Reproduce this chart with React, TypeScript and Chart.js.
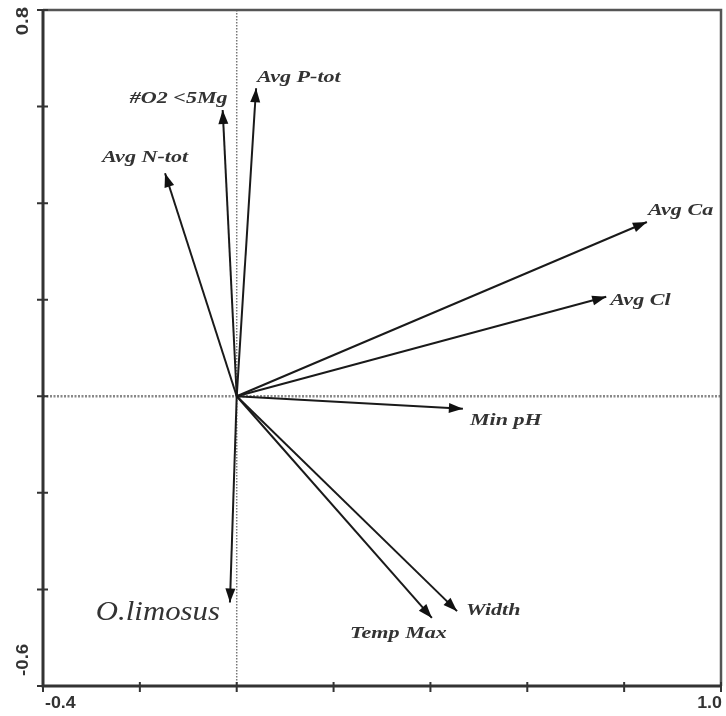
import React, { useEffect, useRef } from "react";
import { Chart, registerables } from "chart.js";

Chart.register(...registerables);

// ---- data ----
const variables = ["Avg P-tot", "#O2 <5Mg", "Avg N-tot", "Avg Ca", "Avg Cl", "Min pH", "Width", "Temp Max", "O.limosus"];
const axis1 = [0.04, -0.029, -0.148, 0.847, 0.763, 0.467, 0.455, 0.403, -0.014];
const axis2 = [0.638, 0.593, 0.462, 0.361, 0.206, -0.026, -0.445, -0.459, -0.427];
const xTicks = [-0.4, -0.2, 0, 0.2, 0.4, 0.6, 0.8, 1.0];
const yTicks = [-0.6, -0.4, -0.2, 0, 0.2, 0.4, 0.6, 0.8];
const xTickLabels = ["-0.4", "1.0"];
const yTickLabels = ["-0.6", "0.8"];

// ---- label layout (pixel offsets from arrow tips) ----
const labelLayout = [
  { dx: 1, dy: -6, align: "left" },
  { dx: 5, dy: -7, align: "right" },
  { dx: -20, dy: -11, align: "center" },
  { dx: 1, dy: -7, align: "left" },
  { dx: 4, dy: 8, align: "left" },
  { dx: 7, dy: 16, align: "left" },
  { dx: 9, dy: 4, align: "left" },
  { dx: 15, dy: 20, align: "right" },
  { dx: -10, dy: 18, align: "right" },
];
const speciesIndex = 8;
const labelStretch = 1.3;
const speciesStretch = 1.1;

function stretchedText(ctx: any, text: string, x: number, y: number, sx: number, sy: number) {
  ctx.save();
  ctx.translate(x, y);
  ctx.scale(sx, sy);
  ctx.fillText(text, 0, 0);
  ctx.restore();
}

const biplotPlugin = {
  id: "biplot",
  beforeDatasetsDraw(chart: any) {
    const { ctx, chartArea, scales } = chart;
    const x0 = scales.x.getPixelForValue(0);
    const y0 = scales.y.getPixelForValue(0);
    ctx.save();
    ctx.strokeStyle = "#777";
    ctx.lineWidth = 1.5;
    ctx.setLineDash([1.5, 1.5]);
    ctx.beginPath();
    ctx.moveTo(x0, chartArea.top);
    ctx.lineTo(x0, chartArea.bottom);
    ctx.stroke();
    ctx.strokeStyle = "#888";
    ctx.lineWidth = 2.5;
    ctx.setLineDash([2, 1.5]);
    ctx.beginPath();
    ctx.moveTo(chartArea.left, y0);
    ctx.lineTo(chartArea.right, y0);
    ctx.stroke();
    ctx.restore();
  },
  afterDatasetsDraw(chart: any) {
    const { ctx, scales } = chart;
    const ox = scales.x.getPixelForValue(0);
    const oy = scales.y.getPixelForValue(0);
    ctx.save();
    for (let i = 0; i < variables.length; i++) {
      const tx = scales.x.getPixelForValue(axis1[i]);
      const ty = scales.y.getPixelForValue(axis2[i]);
      const a = Math.atan2(ty - oy, tx - ox);
      const L = 14;
      const W = 5;
      const bx = tx - L * Math.cos(a);
      const by = ty - L * Math.sin(a);
      ctx.fillStyle = "#111";
      ctx.beginPath();
      ctx.moveTo(tx, ty);
      ctx.lineTo(bx - W * Math.sin(a), by + W * Math.cos(a));
      ctx.lineTo(bx + W * Math.sin(a), by - W * Math.cos(a));
      ctx.closePath();
      ctx.fill();

      const lay = labelLayout[i];
      const isSpecies = i === speciesIndex;
      ctx.font = isSpecies
        ? "italic 28px 'Liberation Serif', serif"
        : "italic bold 17px 'Liberation Serif', serif";
      ctx.fillStyle = isSpecies ? "#333" : "#333";
      ctx.textAlign = lay.align;
      ctx.textBaseline = "alphabetic";
      stretchedText(ctx, variables[i], tx + lay.dx, ty + lay.dy, isSpecies ? speciesStretch : labelStretch, 1);
    }
    ctx.restore();
  },
  afterDraw(chart: any) {
    const { ctx, chartArea, scales } = chart;
    const { left, right, top, bottom } = chartArea;
    ctx.save();
    // frame
    ctx.strokeStyle = "#555";
    ctx.lineWidth = 2.5;
    ctx.beginPath();
    ctx.moveTo(left, top);
    ctx.lineTo(right, top);
    ctx.lineTo(right, bottom);
    ctx.stroke();
    ctx.strokeStyle = "#333";
    ctx.lineWidth = 3;
    ctx.beginPath();
    ctx.moveTo(left, top - 1);
    ctx.lineTo(left, bottom);
    ctx.lineTo(right + 1, bottom);
    ctx.stroke();
    // ticks
    ctx.lineWidth = 2;
    ctx.beginPath();
    for (const v of yTicks) {
      const y = scales.y.getPixelForValue(v);
      ctx.moveTo(left - 6, y);
      ctx.lineTo(left + 5, y);
    }
    for (const v of xTicks) {
      const x = scales.x.getPixelForValue(v);
      ctx.moveTo(x, bottom - 4);
      ctx.lineTo(x, bottom + 6);
    }
    ctx.stroke();
    // tick labels
    ctx.fillStyle = "#333";
    ctx.font = "bold 17px 'Liberation Sans', sans-serif";
    ctx.textBaseline = "middle";
    ctx.textAlign = "left";
    stretchedText(ctx, xTickLabels[0], scales.x.getPixelForValue(xTicks[0]) + 2, bottom + 17, 1.05, 1);
    ctx.textAlign = "right";
    stretchedText(ctx, xTickLabels[1], scales.x.getPixelForValue(xTicks[xTicks.length - 1]) + 1, bottom + 17, 1.05, 1);
    // rotated y labels
    ctx.save();
    ctx.translate(left - 20, scales.y.getPixelForValue(yTicks[0]));
    ctx.rotate(-Math.PI / 2);
    ctx.textAlign = "left";
    stretchedText(ctx, yTickLabels[0], 10, 0, 1.1, 1);
    ctx.restore();
    ctx.save();
    ctx.translate(left - 20, scales.y.getPixelForValue(yTicks[yTicks.length - 1]));
    ctx.rotate(-Math.PI / 2);
    ctx.textAlign = "right";
    stretchedText(ctx, yTickLabels[1], 3, 0, 1.2, 1);
    ctx.restore();
    ctx.restore();
  },
};

export default function App() {
  const canvasRef = useRef<HTMLCanvasElement | null>(null);
  useEffect(() => {
    const canvas = canvasRef.current;
    if (!canvas) return;
    const datasets = variables.map((name, i) => ({
      label: name,
      data: [
        { x: 0, y: 0 },
        { x: axis1[i], y: axis2[i] },
      ],
      showLine: true,
      borderColor: "#1a1a1a",
      borderWidth: 2,
      pointRadius: 0,
      pointHoverRadius: 0,
    }));
    const chart = new Chart(canvas, {
      type: "scatter",
      data: { datasets },
      options: {
        responsive: false,
        animation: false,
        layout: { padding: { left: 43, top: 10, right: 5, bottom: 30 } },
        scales: {
          x: { type: "linear", min: -0.4, max: 1.0, display: false },
          y: { type: "linear", min: -0.6, max: 0.8, display: false },
        },
        plugins: { legend: { display: false }, tooltip: { enabled: false } },
      },
      plugins: [biplotPlugin],
    } as any);
    return () => chart.destroy();
  }, []);
  return (
    <div style={{ position: "absolute", left: 0, top: 0, width: 726, height: 716, background: "#fff" }}>
      <canvas ref={canvasRef} width={726} height={716} style={{ width: 726, height: 716, display: "block" }} />
    </div>
  );
}
